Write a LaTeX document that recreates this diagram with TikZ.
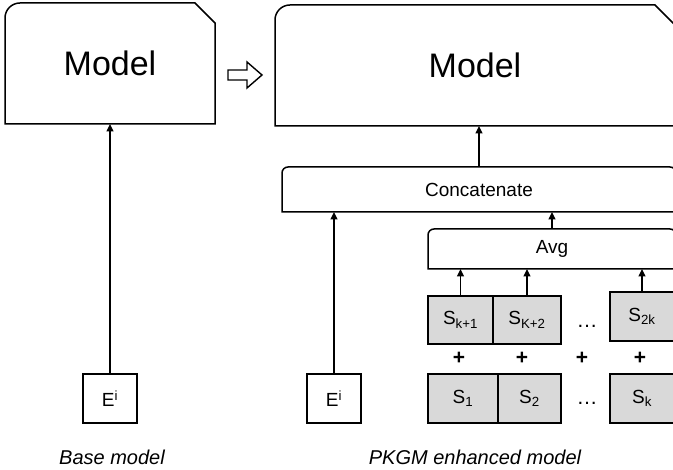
\documentclass[tikz,border=0pt]{standalone}
\usepackage{fontspec}
\setmainfont{Liberation Sans}
\usetikzlibrary{arrows.meta,positioning}

\tikzset{
  conn/.style={-{Triangle[length=7.5pt,width=7pt]},line width=1.4pt},
  modelbox/.style={inner sep=0pt,outer sep=0pt,minimum height=121pt,font=\fontsize{34}{36}\selectfont},
  layer/.style={inner sep=0pt,outer sep=0pt,font=\fontsize{19}{21}\selectfont},
  sbox/.style={draw,fill=black!15,line width=1.5pt,inner sep=0pt,outer sep=0pt,minimum height=49pt,font=\fontsize{19}{21}\selectfont},
  ebox/.style={draw,line width=1.5pt,inner sep=0pt,minimum width=54pt,minimum height=49pt,font=\fontsize{19}{21}\selectfont},
  caption/.style={font=\fontsize{20}{22}\selectfont\itshape}
}

\begin{document}
\begin{tikzpicture}[x=1pt,y=1pt]
\useasboundingbox (0,0) rectangle (673,470);
\clip (0,0) rectangle (673,470);

% models
\node[modelbox,minimum width=210pt] (mL) at (110,406.5) {Model};
\node[modelbox,minimum width=400pt] (mR) at (475,404.5) {Model};
\begin{scope}[line width=1.5pt]
    \draw (mL.south west) [rounded corners=15pt] -- (mL.north west) [sharp corners]
        -- ([xshift=-20pt]mL.north east) -- ([yshift=-20pt]mL.north east) -- (mL.south east) -- cycle;
    \draw (mR.south west) [rounded corners=15pt] -- (mR.north west) [sharp corners]
        -- ([xshift=-20pt]mR.north east) -- ([yshift=-20pt]mR.north east) -- (mR.south east) -- cycle;
\end{scope}

% open arrow
\draw[line width=1.4pt,line join=miter] (228,400) -- (247,400) -- (247,408) -- (262,395)
    -- (247,382) -- (247,390) -- (228,390) -- cycle;

% layers
\node[layer,minimum width=394pt,minimum height=45pt] (concat) at (479,280.5) {Concatenate};
\node[layer,minimum width=248pt,minimum height=40pt] (avg) at (552,221) {Avg};
\foreach \b in {concat,avg}
    \draw[line width=1.5pt] (\b.south west) [rounded corners=6pt] -- (\b.north west)
        -- (\b.north east) [sharp corners] -- (\b.south east) -- cycle;

% inputs
\node[ebox] (eL) at (110,71.5) {E\textsuperscript{i}};
\node[ebox] (eR) at (334,71.5) {E\textsuperscript{i}};

\node[sbox,minimum width=65pt,minimum height=48pt] (sk1) at (460.5,150) {S\textsubscript{k+1}};
\node[sbox,minimum width=68pt,minimum height=48pt,right=0pt of sk1] (sk2) {S\textsubscript{K+2}};
\node[sbox,minimum width=64pt] (s2k) at (642,153.5) {S\textsubscript{2k}};
\node[sbox,minimum width=70pt] (s1) at (463,71.5) {S\textsubscript{1}};
\node[sbox,minimum width=63pt,right=0pt of s1] (s2) {S\textsubscript{2}};
\node[sbox,minimum width=64pt] (sk) at (642,71.5) {S\textsubscript{k}};

\begin{scope}[every node/.style={font=\fontsize{21}{23}\selectfont}]
    \node (p1) at (459,112) {\textbf{+}};
    \node (p2) at (522,112) {\textbf{+}};
    \node (p3) at (582,112) {\textbf{+}};
    \node (p4) at (640,112) {\textbf{+}};
    \node (d1) at (587,144) {\dots};
    \node (d2) at (587,67) {\dots};
\end{scope}

% connectors
\draw[conn] (eL.north) -- (eL.north |- mL.south);
\draw[conn] (eR.north) -- (eR.north |- concat.south);
\draw[conn] (concat.north) -- (concat.north |- mR.south);
\draw[conn] (avg.north) -- (avg.north |- concat.south);
\foreach \s in {sk1,sk2,s2k}
    \draw[conn] (\s.north) -- (\s.north |- avg.south);

% captions
\node[caption] (capL) at (112,13) {Base model};
\node[caption] (capR) at (475,13) {PKGM enhanced model};
\end{tikzpicture}
\end{document}
